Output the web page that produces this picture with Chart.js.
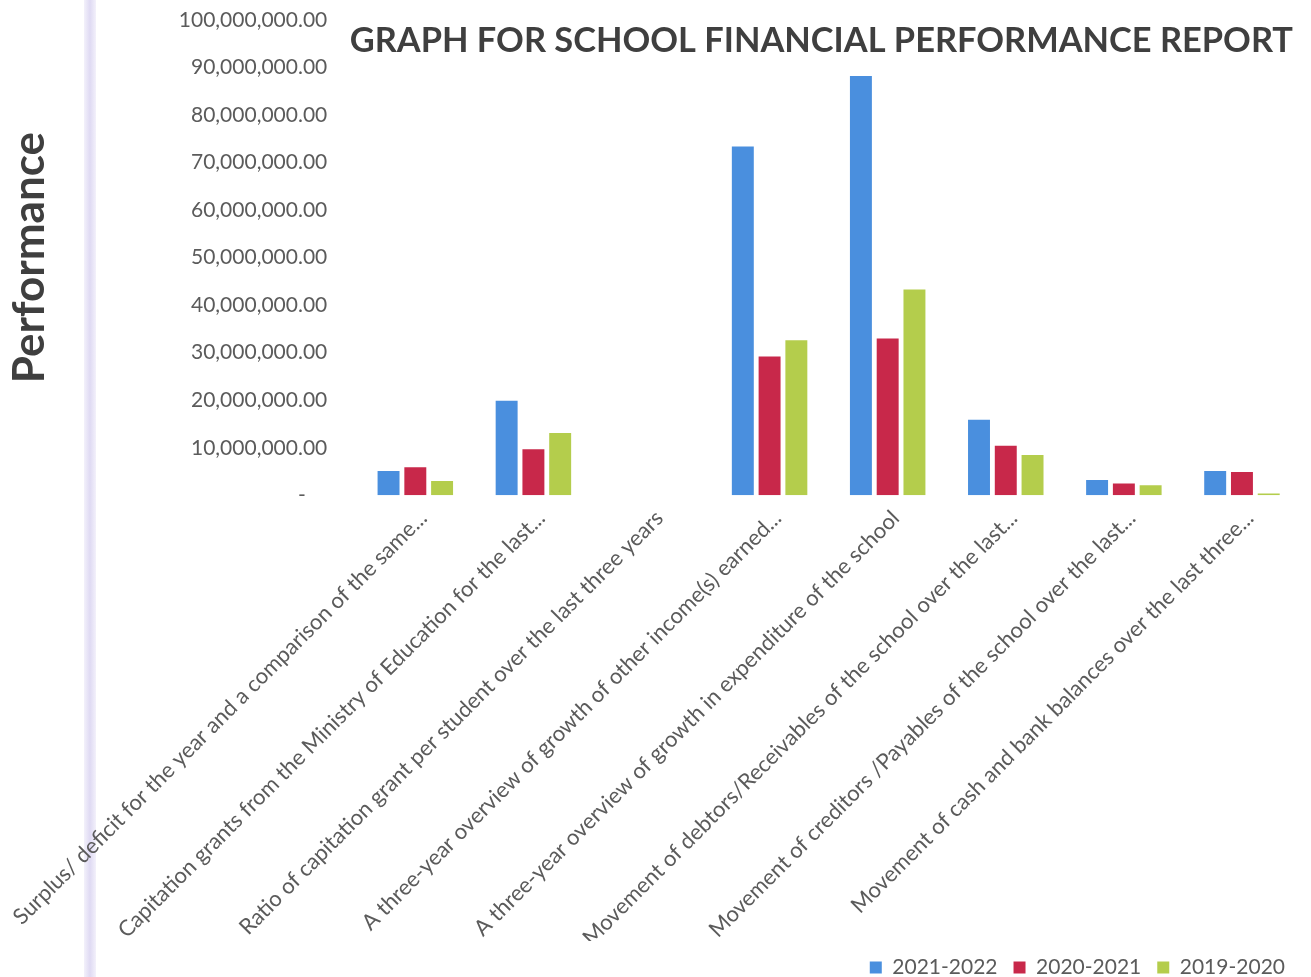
<!DOCTYPE html>
<html>
<head>
<meta charset="utf-8">
<title>Graph for School Financial Performance Report</title>
<script src="https://cdn.jsdelivr.net/npm/chart.js@4.4.1/dist/chart.umd.min.js"></script>
<style>
  body { margin: 0; background: #fff; }
  #wrap { position: relative; width: 1311px; height: 977px; overflow: hidden; }
  #edge { position: absolute; left: 84px; top: 0; width: 12px; height: 977px;
          background: linear-gradient(to right, #f3f1fb, #dfdaf3 50%, #f3f1fb); }
  #chart { position: absolute; left: 0; top: 0; }
</style>
</head>
<body>
<div id="wrap">
  <div id="edge"></div>
  <canvas id="chart" width="1311" height="977"></canvas>
</div>
<script>
const chartTitle = 'GRAPH FOR SCHOOL FINANCIAL PERFORMANCE REPORT';
const axisTitle = 'Performance';

const categories = [
    'Surplus/ deficit for the year and a comparison of the same...',
    'Capitation grants from the Ministry of Education for the last...',
    'Ratio of capitation grant per student over the last three years',
    'A three-year overview of growth of other income(s) earned...',
    'A three-year overview of growth in expenditure of the school',
    'Movement of debtors/Receivables of the school over the last...',
    'Movement of creditors /Payables of the school over the last...',
    'Movement of cash and bank balances over the last three...'
];

const seriesNames = ['2021-2022', '2020-2021', '2019-2020'];
const values2021_2022 = [5100000, 19900000, 0, 73400000, 88200000, 15900000, 3200000, 5100000];
const values2020_2021 = [5900000, 9700000, 0, 29200000, 33000000, 10400000, 2500000, 4900000];
const values2019_2020 = [3000000, 13100000, 0, 32600000, 43300000, 8500000, 2100000, 400000];
const seriesColors = ['#4a8fde', '#c8284a', '#b4cd4c'];

const yMin = 0;
const yMax = 100000000;
const yStep = 10000000;

const textGrey = '#5b5b5b';
const titleGrey = '#3f3f3f';

// title sits inside the plot area, top right, like the original sheet
const cornerTitle = {
    id: 'cornerTitle',
    afterDraw: function (chart) {
        const ctx = chart.ctx;
        const area = chart.chartArea;
        ctx.save();
        ctx.font = 'bold 34.4px Lato';
        ctx.fillStyle = titleGrey;
        ctx.textAlign = 'right';
        ctx.textBaseline = 'middle';
        ctx.fillText(chartTitle, area.right - 8, area.top + 21);
        ctx.restore();
    }
};

const data = {
    labels: categories,
    datasets: [
        { label: seriesNames[0], data: values2021_2022, backgroundColor: seriesColors[0] },
        { label: seriesNames[1], data: values2020_2021, backgroundColor: seriesColors[1] },
        { label: seriesNames[2], data: values2019_2020, backgroundColor: seriesColors[2] }
    ]
};

const config = {
    type: 'bar',
    data: data,
    options: {
        responsive: false,
        animation: false,
        layout: { padding: { top: 20, left: 3, right: 10, bottom: -11 } },
        datasets: {
            bar: { categoryPercentage: 0.68, barPercentage: 0.82 }
        },
        scales: {
            x: {
                grid: { display: false },
                border: { display: false },
                ticks: {
                    autoSkip: false,
                    minRotation: 45,
                    maxRotation: 45,
                    padding: 2,
                    labelOffset: 8,
                    color: textGrey,
                    font: { family: 'Lato', size: 22 }
                },
                // let the long first label run under the y axis like in the sheet
                afterFit: function (scale) {
                    scale.paddingLeft = 0;
                    scale.height -= 12;
                }
            },
            y: {
                min: yMin,
                max: yMax,
                grid: { display: false },
                border: { display: false },
                ticks: {
                    stepSize: yStep,
                    padding: 21,
                    color: textGrey,
                    font: { family: 'Lato', size: 21 },
                    callback: function (value) {
                        if (value === 0) return '-    ';
                        return value.toLocaleString('en-US', { minimumFractionDigits: 2, maximumFractionDigits: 2 });
                    }
                },
                title: {
                    display: true,
                    text: axisTitle,
                    color: titleGrey,
                    font: { family: 'Lato', size: 44, weight: 'bold' },
                    padding: { top: 0, bottom: 102 }
                },
                afterFit: function (scale) {
                    scale.paddingTop = 0;
                    scale.paddingBottom = 0;
                }
            }
        },
        plugins: {
            legend: {
                position: 'bottom',
                align: 'end',
                labels: {
                    boxWidth: 12,
                    boxHeight: 12,
                    padding: 16,
                    color: textGrey,
                    font: { family: 'Lato', size: 21 }
                }
            },
            title: { display: false },
            tooltip: { enabled: false }
        }
    },
    plugins: [cornerTitle]
};

var myChart = new Chart(document.getElementById('chart'), config);
</script>
</body>
</html>
